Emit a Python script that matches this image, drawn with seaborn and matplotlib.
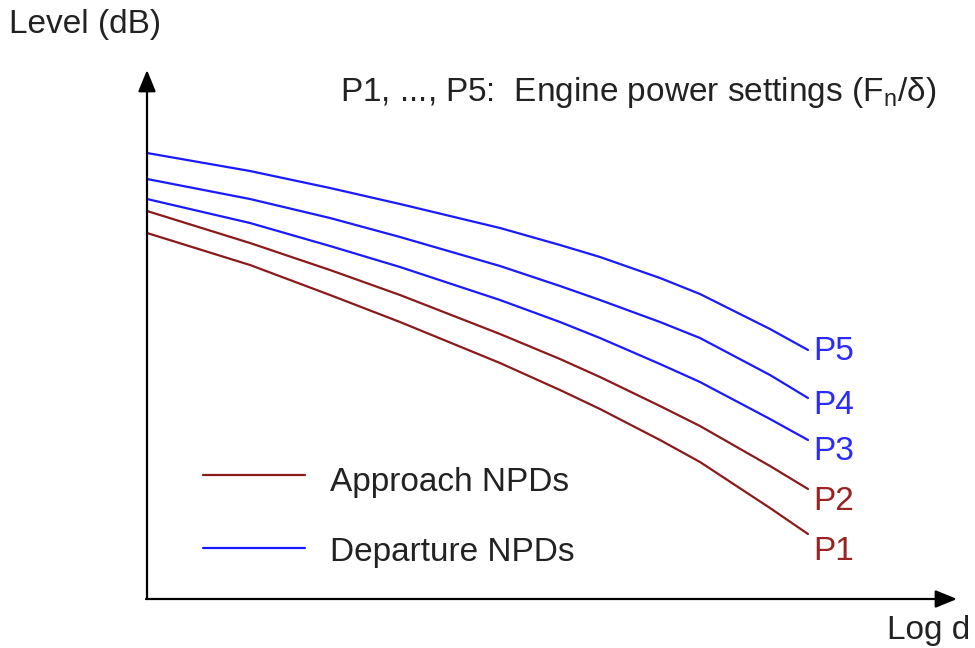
import numpy as np
import pandas as pd
import matplotlib
matplotlib.use("Agg")
import matplotlib.pyplot as plt
import seaborn as sns

sns.set_theme(style="white")
plt.rcParams['font.family'] = ['Liberation Sans', 'DejaVu Sans']

# Data (x = log d position, level in arbitrary schematic units)
log_d = [147, 250, 330, 400, 500, 560, 600, 660, 700, 770, 808]
level_p5 = [495, 477, 460, 444, 420, 403, 391, 370, 354, 319, 298]
level_p4 = [469, 449, 430, 411, 382, 362, 348, 326, 310, 273, 250]
level_p3 = [449, 425, 402, 381, 348, 326, 310, 284, 266, 229, 208]
level_p2 = [437, 405, 378, 353, 314, 289, 271, 242, 222, 182, 159]
level_p1 = [415, 383, 353, 326, 285, 258, 239, 208, 186, 140, 114]
curve_names = ["P1", "P2", "P3", "P4", "P5"]
curve_kind = ["Approach", "Approach", "Departure", "Departure", "Departure"]

brown = "#8b1a1a"
blue = "#1a1aff"
brown_txt = "#992222"
blue_txt = "#2a2aff"

series = [level_p1, level_p2, level_p3, level_p4, level_p5]
rows = []
for name, vals in zip(curve_names, series):
    for x, y in zip(log_d, vals):
        rows.append({"log_d": x, "level": y, "curve": name})
df = pd.DataFrame(rows)
palette = {n: (brown if k == "Approach" else blue) for n, k in zip(curve_names, curve_kind)}

fig = plt.figure(figsize=(9.75, 6.48), dpi=100)
ax = fig.add_axes([0, 0, 1, 1])
sns.lineplot(data=df, x="log_d", y="level", hue="curve", palette=palette,
             linewidth=1.6, legend=False, ax=ax, sort=True)
ax.set_xlim(0, 975)
ax.set_ylim(0, 648)
ax.axis("off")

# Axes with arrows
arrow_kw = dict(arrowstyle="-|>,head_length=1.1,head_width=0.45", color="black", lw=1.6,
                shrinkA=0, shrinkB=0)
ax.annotate("", xy=(147, 578), xytext=(147, 49), arrowprops=arrow_kw)
ax.annotate("", xy=(957, 49), xytext=(146, 49), arrowprops=arrow_kw)

fs = 24
txt = "#222222"
ax.text(9, 623, "Level (dB)", fontsize=fs, ha="left", va="center", color=txt)
ax.text(970, 17, "Log d", fontsize=fs, ha="right", va="center", color=txt)
ax.text(340, 556, "P1, ..., P5:  Engine power settings (F$_\\mathregular{n}$/δ)",
        fontsize=fs, ha="left", va="center", color=txt)

# Curve labels
label_y = [96, 146, 196, 243, 296]
for name, ly, kind in zip(curve_names, label_y, curve_kind):
    ax.text(813, ly, name, fontsize=fs, ha="left", va="center",
            color=brown_txt if kind == "Approach" else blue_txt)

# Legend
ax.plot([203, 305], [173, 173], color=brown, lw=1.6)
ax.plot([203, 305], [100, 100], color=blue, lw=1.6)
ax.text(330, 166, "Approach NPDs", fontsize=fs, ha="left", va="center", color=txt)
ax.text(330, 95, "Departure NPDs", fontsize=fs, ha="left", va="center", color=txt)

fig.savefig("out.png", dpi=100)
